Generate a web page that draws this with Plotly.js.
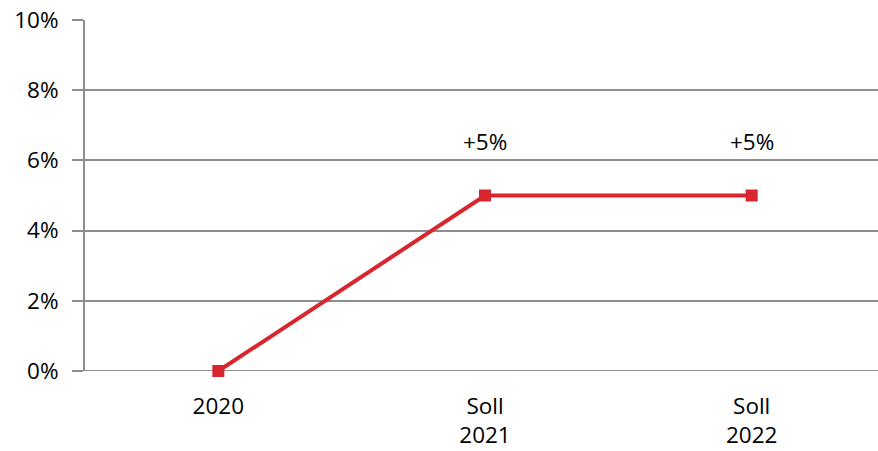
<!DOCTYPE html>
<html>
<head>
<meta charset="utf-8">
<script src="https://cdn.plot.ly/plotly-3.0.1.min.js"></script>
<style>
html,body{margin:0;padding:0;overflow:hidden;background:#fff;width:878px;height:451px;}
#chart{width:890px;height:451px;}
</style>
</head>
<body>
<div id="chart"></div>
<script>
const categories = ["2020", "Soll<br>2021", "Soll<br>2022"];
const values = [0, 5, 5];
const labels = ["", "+5%", "+5%"];
const yTickVals = [0, 2, 4, 6, 8, 10];
const yTickText = ["0%", "2%", "4%", "6%", "8%", "10%"];

const lineColor = "#d7262e";
const gridColor = "#8e8e8e";
const font = {family: "Open Sans, Calibri, sans-serif", size: 22.5, color: "#000"};

const trace = {
  x: [0, 1, 2],
  y: values,
  type: "scatter",
  mode: "lines+markers",
  line: {color: lineColor, width: 4},
  marker: {symbol: "square", size: 12, color: lineColor},
  hoverinfo: "skip",
  cliponaxis: false
};

const annotations = [];
labels.forEach((t, i) => {
  if (t) annotations.push({
    x: i, y: values[i], xref: "x", yref: "y",
    text: t, showarrow: false, yshift: 54,
    font: font
  });
});

const shapes = [
  {type: "line", xref: "x", yref: "y", x0: -0.5, x1: 2.5, y0: 0, y1: 0,
   line: {color: gridColor, width: 2}, layer: "below"}
];
[-0.5, 0.5, 1.5].forEach(v => {
  shapes.push({type: "line", xref: "x", yref: "y", x0: v, x1: v,
    y0: 0, y1: -0.2, line: {color: gridColor, width: 2}});
});

const layout = {
  width: 890, height: 451,
  margin: {l: 85, r: 5, t: 19.5, b: 80},
  paper_bgcolor: "#fff", plot_bgcolor: "#fff",
  showlegend: false,
  font: font,
  xaxis: {
    range: [-0.5, 2.5],
    tickvals: [0, 1, 2],
    ticktext: categories,
    showgrid: false,
    zeroline: false,
    showline: false,
    ticks: "",
    ticklabelstandoff: 19,
    fixedrange: true,
    tickfont: font
  },
  yaxis: {
    range: [0, 10],
    tickvals: yTickVals,
    ticktext: yTickText,
    showgrid: true,
    gridcolor: gridColor,
    gridwidth: 2,
    zeroline: false,
    showline: true,
    linecolor: gridColor,
    linewidth: 2,
    ticks: "outside",
    ticklen: 11,
    tickwidth: 2,
    tickcolor: gridColor,
    ticklabelstandoff: 9,
    fixedrange: true,
    tickfont: font
  },
  shapes: shapes,
  annotations: annotations
};

Plotly.newPlot("chart", [trace], layout, {displayModeBar: false, staticPlot: true});
</script>
</body>
</html>
